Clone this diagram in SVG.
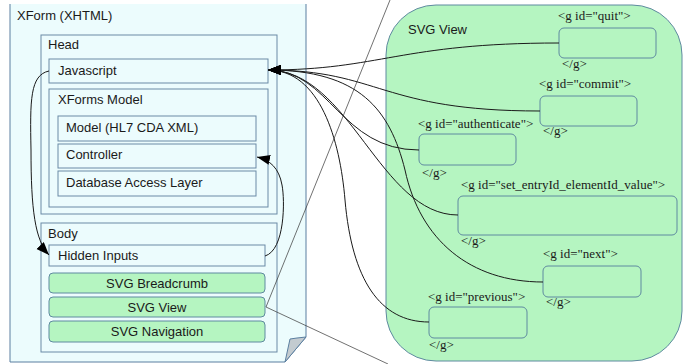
<svg xmlns="http://www.w3.org/2000/svg" width="688" height="364" viewBox="0 0 688 364">
<defs>
<style>
.page{fill:#ecfcfd;stroke:#5b7fa0;stroke-width:1}
.box{fill:#ecfcfd;stroke:#6a8aa6;stroke-width:1}
.gbox{fill:#b5f5c1;stroke:#5f8aa0;stroke-width:1}
.sans{font-family:"Liberation Sans",Arial,sans-serif;font-size:13px;fill:#1a1a1a}
.serif{font-family:"Liberation Serif","Times New Roman",serif;font-size:13px;fill:#1a1a1a}
.mid{text-anchor:middle}
.conn{fill:none;stroke:#1a1a1a;stroke-width:1}
.thin{fill:none;stroke:#333;stroke-width:0.7}
</style>
<marker id="arr" markerUnits="userSpaceOnUse" markerWidth="14" markerHeight="12" refX="13" refY="5" orient="auto">
<path d="M0,0 L13,5 L0,10 Z" fill="#000"/>
</marker>
</defs>

<g id="xform">
<path d="M10,4 H306 V337 L285,362 H10 Z" fill="#ecfcfd"/>
<path class="page" fill="none" d="M10,4 V362 H285 L306,337 V4" style="fill:none"/>
<path d="M306,337 Q296,338 290,339 L285,362 Z" fill="#c3cbd0" stroke="#5b7fa0" stroke-width="1"/>
<text class="sans" x="17" y="20">XForm (XHTML)</text>
</g>

<g id="head">
<rect class="box" x="41" y="35" width="236" height="179"/>
<text class="sans" x="48" y="49">Head</text>
</g>
<g id="javascript">
<rect class="box" x="49" y="59" width="219" height="24"/>
<text class="sans" x="58" y="75">Javascript</text>
</g>
<g id="xforms-model">
<rect class="box" x="49" y="89" width="219" height="118"/>
<text class="sans" x="58" y="104">XForms Model</text>
</g>
<g id="model">
<rect class="box" x="58" y="116" width="198" height="25"/>
<text class="sans" x="66" y="132">Model (HL7 CDA XML)</text>
</g>
<g id="controller">
<rect class="box" x="58" y="144" width="198" height="24"/>
<text class="sans" x="66" y="159">Controller</text>
</g>
<g id="dal">
<rect class="box" x="58" y="171" width="198" height="25"/>
<text class="sans" x="66" y="187">Database Access Layer</text>
</g>

<g id="body">
<rect class="box" x="41" y="223" width="236" height="129"/>
<text class="sans" x="48" y="238">Body</text>
</g>
<g id="hidden-inputs">
<rect class="box" x="49" y="245" width="216" height="21"/>
<text class="sans" x="58" y="260">Hidden Inputs</text>
</g>
<g id="svg-breadcrumb">
<rect class="gbox" x="49" y="273" width="216" height="20" rx="4"/>
<text class="sans mid" x="157" y="288">SVG Breadcrumb</text>
</g>
<g id="svg-view-item">
<rect class="gbox" x="49" y="297" width="216" height="20" rx="4"/>
<text class="sans mid" x="157" y="312">SVG View</text>
</g>
<g id="svg-navigation">
<rect class="gbox" x="49" y="321" width="216" height="21" rx="4"/>
<text class="sans mid" x="157" y="336">SVG Navigation</text>
</g>

<g id="svg-view">
<rect class="gbox" x="386" y="5" width="296" height="356" rx="50"/>
<text class="sans" x="408" y="34">SVG View</text>
</g>
<g id="quit">
<rect class="gbox" x="559" y="28" width="97" height="30" rx="5"/>
<text class="serif" x="558" y="20">&lt;g id="quit"&gt;</text>
<text class="serif" x="562" y="68">&lt;/g&gt;</text>
</g>
<g id="commit">
<rect class="gbox" x="540" y="96" width="97" height="30" rx="5"/>
<text class="serif" x="539" y="88">&lt;g id="commit"&gt;</text>
<text class="serif" x="543" y="135">&lt;/g&gt;</text>
</g>
<g id="authenticate">
<rect class="gbox" x="419" y="134" width="97" height="31" rx="5"/>
<text class="serif" x="418" y="128">&lt;g id="authenticate"&gt;</text>
<text class="serif" x="422" y="177">&lt;/g&gt;</text>
</g>
<g id="set-value">
<rect class="gbox" x="458" y="196" width="219" height="39" rx="5"/>
<text class="serif" x="461" y="189">&lt;g id="set_entryId_elementId_value"&gt;</text>
<text class="serif" x="461" y="245">&lt;/g&gt;</text>
</g>
<g id="next">
<rect class="gbox" x="543" y="266" width="98" height="31" rx="5"/>
<text class="serif" x="543" y="258">&lt;g id="next"&gt;</text>
<text class="serif" x="546" y="306">&lt;/g&gt;</text>
</g>
<g id="previous">
<rect class="gbox" x="429" y="307" width="98" height="31" rx="5"/>
<text class="serif" x="428" y="301">&lt;g id="previous"&gt;</text>
<text class="serif" x="429" y="349">&lt;/g&gt;</text>
</g>

<g id="connectors">
<path class="thin" d="M266,307 L390,0"/>
<path class="thin" d="M266,307 L388,364"/>
<path class="conn" d="M559,43 C400,43 380,70 268,70" marker-end="url(#arr)"/>
<path class="conn" d="M540,111 C380,111 380,70 268,70" marker-end="url(#arr)"/>
<path class="conn" d="M419,150 C340,150 330,70 268,70" marker-end="url(#arr)"/>
<path class="conn" d="M458,215 C380,215 350,70 268,70" marker-end="url(#arr)"/>
<path class="conn" d="M543,282 C470,282 420,240 405,170 C390,110 360,70 268,70" marker-end="url(#arr)"/>
<path class="conn" d="M429,322 C380,322 352,280 345,200 C340,140 320,70 268,70" marker-end="url(#arr)"/>
<path class="conn" d="M49,71 C30,75 30,100 31,150 C31,210 35,240 49,255" marker-end="url(#arr)"/>
<path class="conn" d="M265,256 C285,250 285,200 282,185 C279,168 270,160 257,157" marker-end="url(#arr)"/>
</g>
</svg>
